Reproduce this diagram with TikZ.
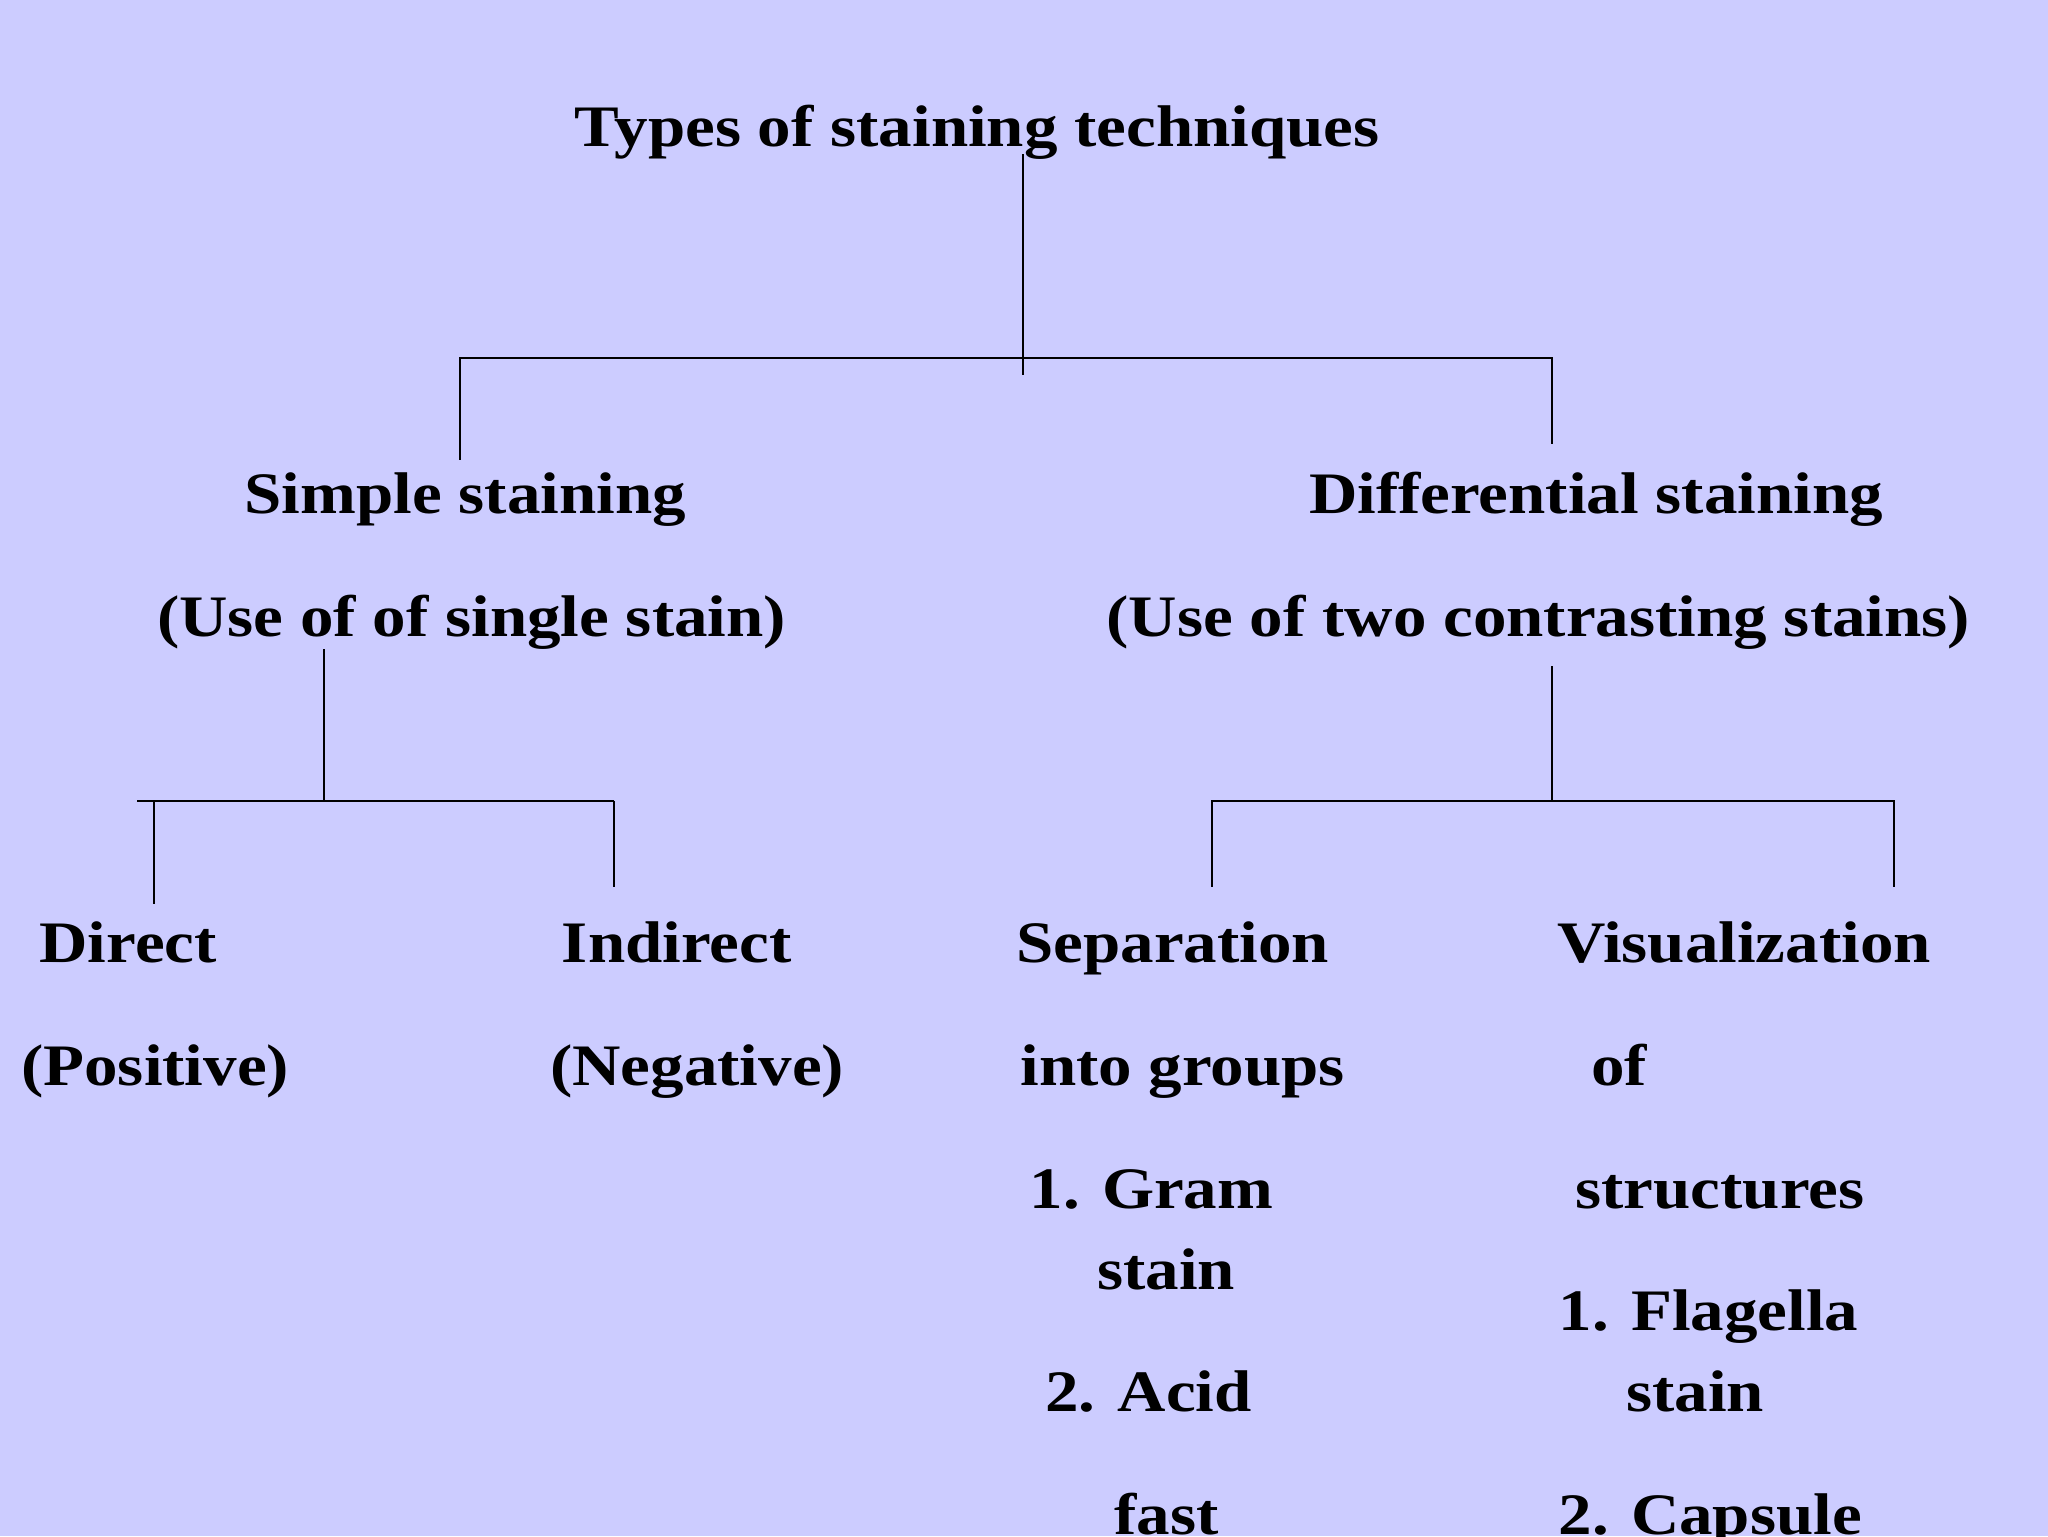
\documentclass[tikz,border=0pt]{standalone}
\usepackage{fontspec}
\setmainfont{Liberation Serif}
\definecolor{bg}{RGB}{204,204,255}
\begin{document}
\begin{tikzpicture}[x=1pt,y=-1pt,
  lbl/.style={anchor=base west,inner sep=0pt,font=\fontsize{45}{50}\selectfont\bfseries,xscale=1.14},
  ln/.style={line width=1.3pt}]
\useasboundingbox (0,0) rectangle (1568,1176);
\clip (0,0) rectangle (1568,1176);
\fill[bg] (0,0) rectangle (1568,1176);
\node[lbl] (title) at (440,112) {Types of staining techniques};
\node[lbl] (simple) at (187,393) {Simple staining};
\node[lbl] (simple2) at (120,487) {(Use of of single stain)};
\node[lbl] (diff) at (1002,393) {Differential staining};
\node[lbl] (diff2) at (847,487) {(Use of two contrasting stains)};
\node[lbl] (direct) at (30,737) {Direct};
\node[lbl] at (16,831) {(Positive)};
\node[lbl] (indirect) at (430,737) {Indirect};
\node[lbl] at (421,831) {(Negative)};
\node[lbl] (sep) at (778,737) {Separation};
\node[lbl] at (781,831) {into groups};
\node[lbl] at (788,925) {1. Gram};
\node[lbl] at (840,987) {stain};
\node[lbl] at (800,1081) {2. Acid};
\node[lbl] at (853,1175) {fast};
\node[lbl] (vis) at (1192,737) {Visualization};
\node[lbl] at (1218,831) {of};
\node[lbl] at (1206,925) {structures};
\node[lbl] at (1193,1019) {1. Flagella};
\node[lbl] at (1245,1081) {stain};
\node[lbl] at (1193,1175) {2. Capsule};
\coordinate (t1) at (783,118); \coordinate (t2) at (783,287);
\coordinate (hL) at (352,274); \coordinate (hR) at (1188,274);
\coordinate (sTop) at (352,352); \coordinate (dTop) at (1188,340);
\draw[ln] (t1) -- (t2);
\draw[ln] (sTop) -- (hL) -- (hR) -- (dTop);
\coordinate (s1) at (248,497); \coordinate (s2) at (248,613);
\coordinate (a1) at (105,613); \coordinate (a2) at (470,613);
\draw[ln] (s1) -- (s2);
\draw[ln] (a1) -- (a2);
\draw[ln] (118,613) -- (118,692);
\draw[ln] (a2) -- (470,679);
\coordinate (d1) at (1188,510); \coordinate (d2) at (1188,613);
\coordinate (b1) at (928,613); \coordinate (b2) at (1450,613);
\draw[ln] (d1) -- (d2);
\draw[ln] (928,679) -- (b1) -- (b2) -- (1450,679);
\end{tikzpicture}
\end{document}
